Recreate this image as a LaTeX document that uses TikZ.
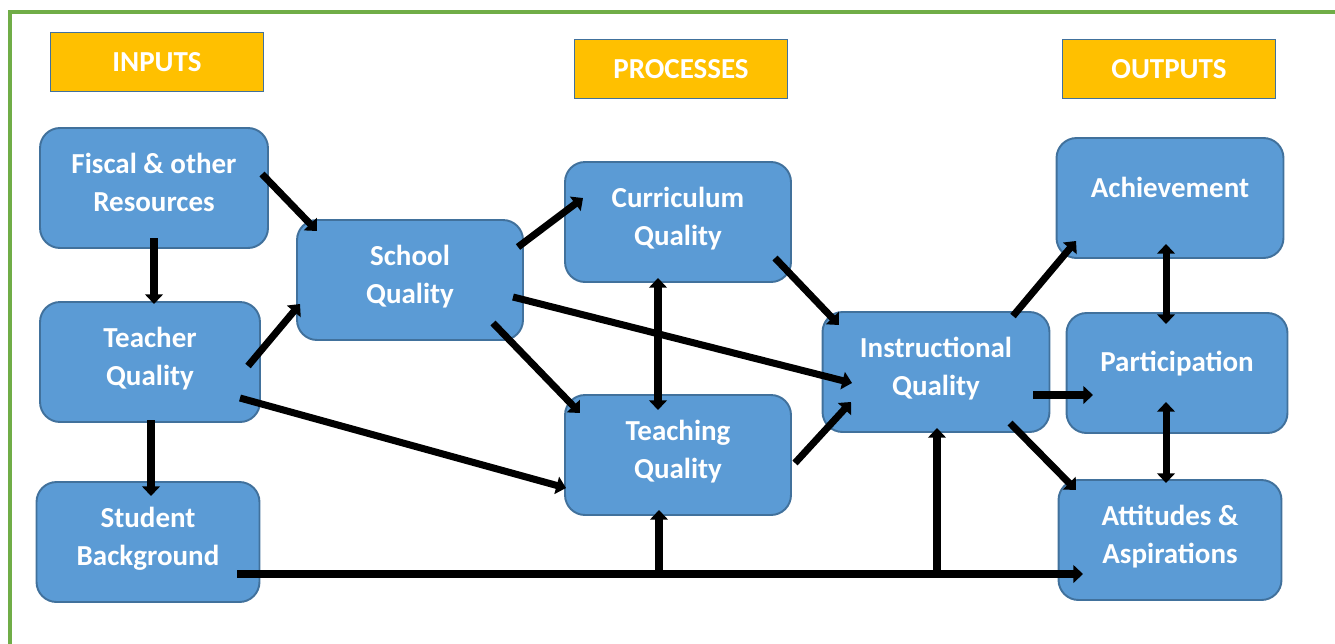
\documentclass[tikz,border=0pt]{standalone}
\usepackage{fontspec}
\setmainfont{Carlito}
\usetikzlibrary{arrows.meta}
\definecolor{boxblue}{HTML}{5B9BD5}
\definecolor{edgeblue}{HTML}{41719C}
\definecolor{headgold}{HTML}{FFC000}
\definecolor{framegreen}{HTML}{70AD47}

\begin{document}
\begin{tikzpicture}[x=0.02cm,y=-0.02cm,
	box/.style={draw=edgeblue,line width=1.1pt,fill=boxblue,rounded corners=0.4cm,
		minimum width=4.5cm,minimum height=2.4cm,align=center,text=white,
		font=\fontsize{16.5}{21.5}\selectfont\bfseries,text depth=0.22cm},
	head/.style={draw=edgeblue,line width=0.9pt,fill=headgold,minimum width=4.26cm,
		minimum height=1.18cm,text=white,font=\fontsize{16.5}{20}\selectfont\bfseries},
	arr/.style={line width=4pt,-{Triangle[width=10pt,length=5.5pt]}},
	both/.style={line width=4pt,{Triangle[width=10pt,length=5.5pt]}-{Triangle[width=10pt,length=5.5pt]}}]
		\useasboundingbox (0,0) rectangle (1335,643);
		\clip (0,0) rectangle (1335,643);
		\draw[framegreen,line width=2pt] (10,700) -- (10,12) -- (1400,12);

		% column headings
		\node[head] (inputs) at (157,62) {INPUTS};
		\node[head] (processes) at (681,69) {PROCESSES};
		\node[head] (outputs) at (1169,69) {OUTPUTS};

		% boxes
		\node[box,minimum width=4.56cm] (fiscal) at (154,188) {Fiscal \& other\\Resources};
		\node[box,minimum width=4.4cm] (teacher) at (150,362) {Teacher\\Quality};
		\node[box,minimum width=4.46cm] (student) at (148,542) {Student\\Background};
		\node[box,minimum width=4.52cm] (school) at (410,280) {School\\Quality};
		\node[box,minimum width=4.52cm] (curric) at (678,222) {Curriculum\\Quality};
		\node[box,minimum width=4.52cm] (teaching) at (678,455) {Teaching\\Quality};
		\node[box,minimum width=4.54cm] (instr) at (936,372) {Instructional\\Quality};
		\node[box,minimum width=4.54cm,text depth=0.42cm] (achieve) at (1170,198) {Achievement};
		\node[box,minimum width=4.42cm,text depth=0.48cm] (partic) at (1177,373) {Participation};
		\node[box,minimum width=4.46cm] (attit) at (1170,540) {Attitudes \&\\Aspirations};

		% arrow ends
		\coordinate (f1) at (262,174); \coordinate (s1) at (317,231);
		\coordinate (f2) at (154,238); \coordinate (t1) at (154,304);
		\coordinate (t2) at (248,366); \coordinate (s2) at (300,304);
		\coordinate (t3) at (151,420); \coordinate (b1) at (151,496);
		\coordinate (t4) at (240,398); \coordinate (g1) at (566,488);
		\coordinate (s3) at (518,247); \coordinate (c1) at (583,198);
		\coordinate (s4) at (513,297); \coordinate (i1) at (852,383);
		\coordinate (s5) at (493,323); \coordinate (g2) at (580,413);
		\coordinate (c2) at (658,278); \coordinate (g3) at (658,410);
		\coordinate (c3) at (775,258); \coordinate (i2) at (839,325);
		\coordinate (g4) at (795,463); \coordinate (i3) at (851,402);
		\coordinate (i4) at (1013,316); \coordinate (a1) at (1076,241);
		\coordinate (i5) at (1033,395); \coordinate (p1) at (1093,395);
		\coordinate (i6) at (1010,423); \coordinate (o1) at (1076,490);
		\coordinate (a2) at (1166,244); \coordinate (p2) at (1166,324);
		\coordinate (p3) at (1166,402); \coordinate (o2) at (1166,483);
		\coordinate (b2) at (237,574); \coordinate (o3) at (1083,574);
		\coordinate (j1) at (659,577); \coordinate (g5) at (659,510);
		\coordinate (j2) at (937,577); \coordinate (i7) at (937,428);

		\draw[arr] (f1) -- (s1);
		\draw[arr] (f2) -- (t1);
		\draw[arr] (t2) -- (s2);
		\draw[arr] (t3) -- (b1);
		\draw[arr] (t4) -- (g1);
		\draw[arr] (s3) -- (c1);
		\draw[arr] (s4) -- (i1);
		\draw[arr] (s5) -- (g2);
		\draw[both] (c2) -- (g3);
		\draw[arr] (c3) -- (i2);
		\draw[arr] (g4) -- (i3);
		\draw[arr] (i4) -- (a1);
		\draw[arr] (i5) -- (p1);
		\draw[arr] (i6) -- (o1);
		\draw[both] (a2) -- (p2);
		\draw[both] (p3) -- (o2);
		\draw[arr] (b2) -- (o3);
		\draw[arr] (j1) -- (g5);
		\draw[arr] (j2) -- (i7);
\end{tikzpicture}
\end{document}
